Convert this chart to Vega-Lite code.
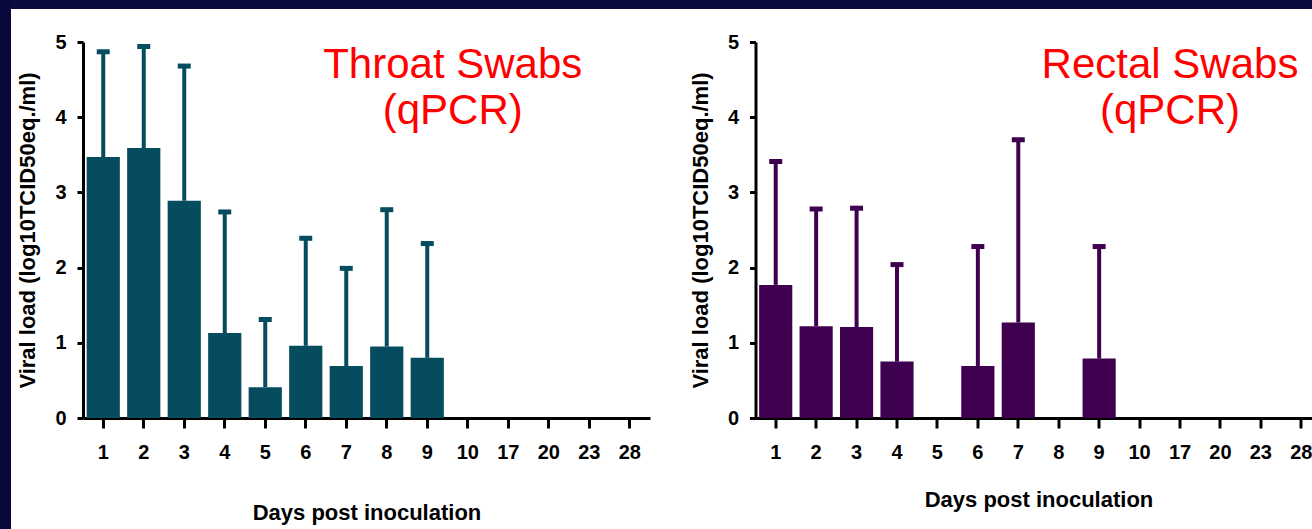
{
  "$schema": "https://vega.github.io/schema/vega-lite/v6.json",
  "padding": 0,
  "background": "white",
  "bounds": "flush",
  "spacing": 0,
  "config": {
    "view": {"stroke": null},
    "axis": {
      "grid": false,
      "domainColor": "black",
      "domainWidth": 3,
      "tickColor": "black",
      "tickWidth": 3,
      "labelFont": "Liberation Sans",
      "labelFontWeight": "bold",
      "labelFontSize": 20,
      "labelColor": "black",
      "titleFont": "Liberation Sans",
      "titleFontWeight": "bold",
      "titleFontSize": 22,
      "titleColor": "black",
      "labelOverlap": false,
      "labelFlush": false,
      "labelBound": false
    }
  },
  "hconcat": [
    {
      "width": 11,
      "height": 529,
      "data": {"values": []},
      "mark": "point",
      "view": {"fill": "#08083a", "stroke": null}
    },
    {
      "bounds": "flush",
      "spacing": 33,
      "vconcat": [
        {
          "width": 1310,
          "height": 9,
          "data": {"values": []},
          "mark": "point",
          "view": {"fill": "#0a0b3c", "stroke": null}
        },
        {
          "bounds": "flush",
          "spacing": 0,
          "hconcat": [
            {
              "width": 71.5,
              "height": 10,
              "data": {"values": []},
              "mark": "point",
              "view": {"stroke": null}
            },
            {
              "bounds": "flush",
              "spacing": 105.5,
              "hconcat": [
                {
                  "width": 567,
                  "height": 376,
                  "data": {"values": [
                    {"day": "1", "load": 3.47, "upper": 4.87},
                    {"day": "2", "load": 3.59, "upper": 4.94},
                    {"day": "3", "load": 2.89, "upper": 4.68},
                    {"day": "4", "load": 1.13, "upper": 2.74},
                    {"day": "5", "load": 0.41, "upper": 1.31},
                    {"day": "6", "load": 0.96, "upper": 2.39},
                    {"day": "7", "load": 0.69, "upper": 1.99},
                    {"day": "8", "load": 0.95, "upper": 2.77},
                    {"day": "9", "load": 0.80, "upper": 2.32},
                    {"day": "10", "load": 0, "upper": null},
                    {"day": "17", "load": 0, "upper": null},
                    {"day": "20", "load": 0, "upper": null},
                    {"day": "23", "load": 0, "upper": null},
                    {"day": "28", "load": 0, "upper": null}
                  ]},
                  "encoding": {
                    "x": {
                      "field": "day", "type": "ordinal",
                      "scale": {"domain": ["1","2","3","4","5","6","7","8","9","10","17","20","23","28"], "paddingInner": 0.18, "paddingOuter": 0.09},
                      "axis": {"title": "Days post inoculation", "labelAngle": 0, "tickSize": 10, "labelPadding": 14, "titlePadding": 40, "bandPosition": 0.5}
                    }
                  },
                  "layer": [
                    {
                      "mark": {"type": "rule", "color": "#054c5e", "strokeWidth": 4},
                      "encoding": {
                        "y": {"field": "load", "type": "quantitative"},
                        "y2": {"field": "upper"}
                      }
                    },
                    {
                      "mark": {"type": "tick", "color": "#054c5e", "thickness": 5, "size": 13, "opacity": 1},
                      "encoding": {
                        "y": {"field": "upper", "type": "quantitative"}
                      }
                    },
                    {
                      "mark": {"type": "bar", "color": "#054c5e"},
                      "encoding": {
                        "y": {
                          "field": "load", "type": "quantitative",
                          "scale": {"domain": [0, 5], "nice": false},
                          "axis": {"title": "Viral load (log10TCID50eq./ml)", "values": [0,1,2,3,4,5], "format": "d", "tickSize": 6, "labelPadding": 11, "titlePadding": 15}
                        }
                      }
                    },
                    {
                      "data": {"values": [{"label": "Throat Swabs\n(qPCR)"}]},
                      "mark": {"type": "text", "lineBreak": "\n", "font": "Liberation Sans", "fontSize": 42, "lineHeight": 46, "color": "#ff0000", "align": "center", "baseline": "alphabetic", "dx": -15},
                      "encoding": {
                        "x": {"datum": "10"},
                        "y": {"datum": 4.52},
                        "text": {"field": "label"}
                      }
                    }
                  ]
                },
                {
                  "width": 566,
                  "height": 376,
                  "data": {"values": [
                    {"day": "1", "load": 1.77, "upper": 3.41},
                    {"day": "2", "load": 1.22, "upper": 2.78},
                    {"day": "3", "load": 1.21, "upper": 2.79},
                    {"day": "4", "load": 0.75, "upper": 2.04},
                    {"day": "5", "load": 0, "upper": null},
                    {"day": "6", "load": 0.69, "upper": 2.28},
                    {"day": "7", "load": 1.27, "upper": 3.70},
                    {"day": "8", "load": 0, "upper": null},
                    {"day": "9", "load": 0.79, "upper": 2.28},
                    {"day": "10", "load": 0, "upper": null},
                    {"day": "17", "load": 0, "upper": null},
                    {"day": "20", "load": 0, "upper": null},
                    {"day": "23", "load": 0, "upper": null},
                    {"day": "28", "load": 0, "upper": null}
                  ]},
                  "encoding": {
                    "x": {
                      "field": "day", "type": "ordinal",
                      "scale": {"domain": ["1","2","3","4","5","6","7","8","9","10","17","20","23","28"], "paddingInner": 0.18, "paddingOuter": 0.09},
                      "axis": {"title": "Days post inoculation", "labelAngle": 0, "tickSize": 10, "labelPadding": 14, "titlePadding": 27, "bandPosition": 0.5}
                    }
                  },
                  "layer": [
                    {
                      "mark": {"type": "rule", "color": "#3f0050", "strokeWidth": 4},
                      "encoding": {
                        "y": {"field": "load", "type": "quantitative"},
                        "y2": {"field": "upper"}
                      }
                    },
                    {
                      "mark": {"type": "tick", "color": "#3f0050", "thickness": 5, "size": 13, "opacity": 1},
                      "encoding": {
                        "y": {"field": "upper", "type": "quantitative"}
                      }
                    },
                    {
                      "mark": {"type": "bar", "color": "#3f0050"},
                      "encoding": {
                        "y": {
                          "field": "load", "type": "quantitative",
                          "scale": {"domain": [0, 5], "nice": false},
                          "axis": {"title": "Viral load (log10TCID50eq./ml)", "values": [0,1,2,3,4,5], "format": "d", "tickSize": 6, "labelPadding": 11, "titlePadding": 15}
                        }
                      }
                    },
                    {
                      "data": {"values": [{"label": "Rectal Swabs\n(qPCR)"}]},
                      "mark": {"type": "text", "lineBreak": "\n", "font": "Liberation Sans", "fontSize": 42, "lineHeight": 46, "color": "#ff0000", "align": "center", "baseline": "alphabetic", "dx": -10},
                      "encoding": {
                        "x": {"datum": "17"},
                        "y": {"datum": 4.52},
                        "text": {"field": "label"}
                      }
                    }
                  ]
                }
              ]
            }
          ]
        }
      ]
    }
  ]
}
